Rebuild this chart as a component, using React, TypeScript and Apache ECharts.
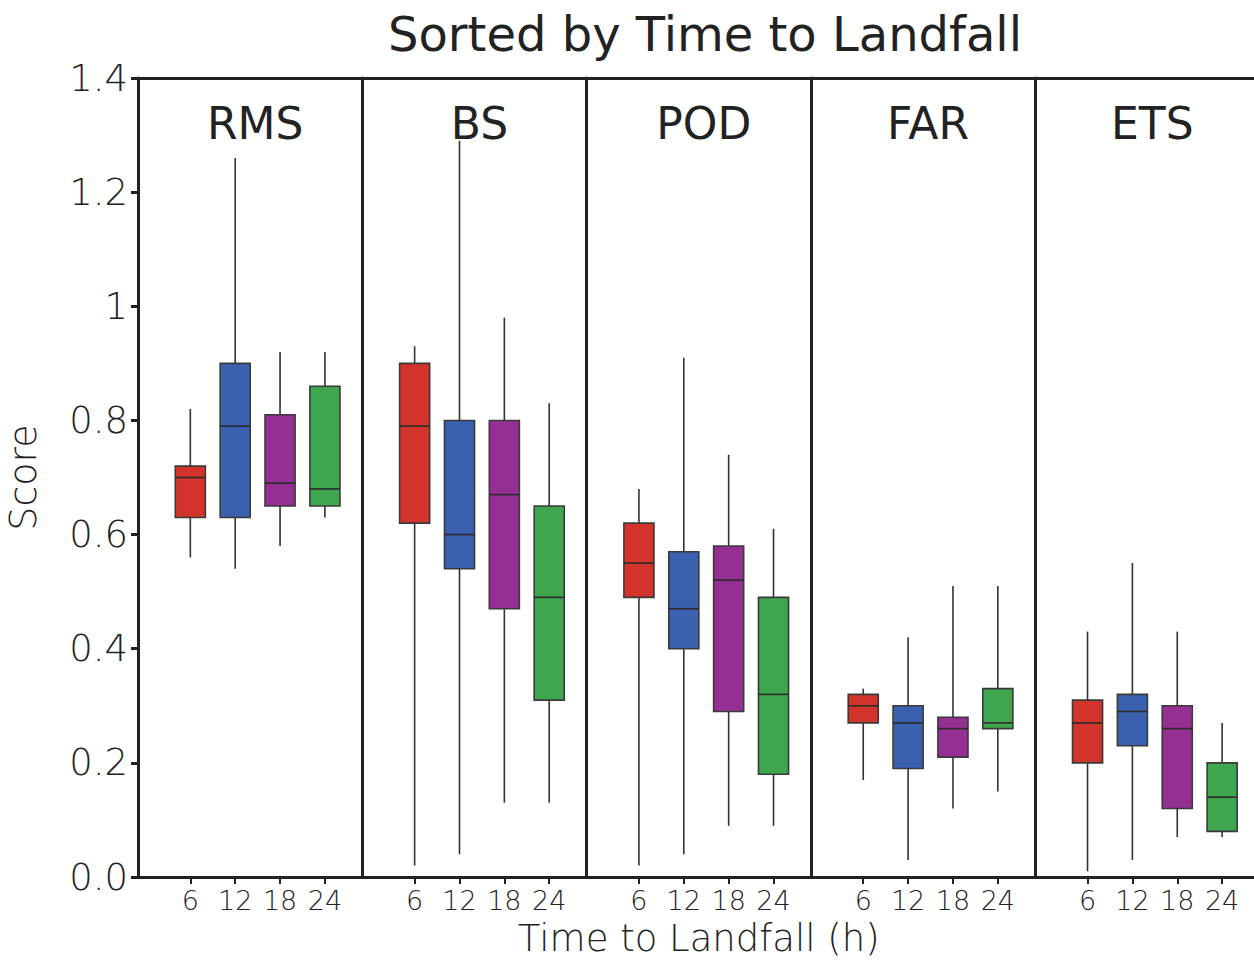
import { useEffect, useRef } from 'react';
import * as echarts from 'echarts';

const panelNames = ['RMS', 'BS', 'POD', 'FAR', 'ETS'];
const leadTimes = [6, 12, 18, 24];
const boxColors = ['#d2342b', '#3a60b0', '#962f93', '#3fa64f'];

// per lead time: [min, Q1, median, Q3, max]
const rmsStats = [
  [0.56, 0.63, 0.70, 0.72, 0.82],
  [0.54, 0.63, 0.79, 0.90, 1.26],
  [0.58, 0.65, 0.69, 0.81, 0.92],
  [0.63, 0.65, 0.68, 0.86, 0.92],
];
const bsStats = [
  [0.02, 0.62, 0.79, 0.90, 0.93],
  [0.04, 0.54, 0.60, 0.80, 1.29],
  [0.13, 0.47, 0.67, 0.80, 0.98],
  [0.13, 0.31, 0.49, 0.65, 0.83],
];
const podStats = [
  [0.02, 0.49, 0.55, 0.62, 0.68],
  [0.04, 0.40, 0.47, 0.57, 0.91],
  [0.09, 0.29, 0.52, 0.58, 0.74],
  [0.09, 0.18, 0.32, 0.49, 0.61],
];
const farStats = [
  [0.17, 0.27, 0.30, 0.32, 0.33],
  [0.03, 0.19, 0.27, 0.30, 0.42],
  [0.12, 0.21, 0.26, 0.28, 0.51],
  [0.15, 0.26, 0.27, 0.33, 0.51],
];
const etsStats = [
  [0.01, 0.20, 0.27, 0.31, 0.43],
  [0.03, 0.23, 0.29, 0.32, 0.55],
  [0.07, 0.12, 0.26, 0.30, 0.43],
  [0.07, 0.08, 0.14, 0.20, 0.27],
];
const allStats = [rmsStats, bsStats, podStats, farStats, etsStats];

const FONT = "'DejaVu Sans', sans-serif";
const INK = '#222';

export default function App() {
  const ref = useRef<HTMLDivElement>(null);
  useEffect(() => {
    if (!ref.current) return;
    const chart = echarts.init(ref.current, undefined, { renderer: 'svg' });
    const gridLeft = 138;
    const panelW = 224.3;
    const gridTop = 78;
    const gridH = 799;

    const grids: any[] = [];
    const xAxes: any[] = [];
    const yAxes: any[] = [];
    const series: any[] = [];
    const titles: any[] = [
      {
        text: 'Sorted by Time to Landfall',
        left: 700,
        top: 5,
        textAlign: 'center',
        textStyle: { fontFamily: FONT, fontSize: 48, fontWeight: 'normal', color: INK },
      },
    ];

    panelNames.forEach((name, k) => {
      const left = gridLeft + k * panelW;
      grids.push({
        left,
        top: gridTop,
        width: panelW,
        height: gridH,
        show: false,
        containLabel: false,
        outerBoundsMode: 'none',
      });
      titles.push({
        text: name,
        left: left + panelW / 2,
        top: 96,
        textAlign: 'center',
        textStyle: { fontFamily: FONT, fontSize: 44, fontWeight: 'normal', color: INK },
      });
      // bottom axis with lead-time ticks
      xAxes.push({
        type: 'value',
        gridIndex: k,
        position: 'bottom',
        min: -1,
        max: 29,
        name: k === 2 ? 'Time to Landfall (h)' : '',
        nameLocation: 'middle',
        nameGap: 43,
        nameTextStyle: { fontFamily: FONT, fontSize: 37, lineHeight: 37, fontWeight: 200, color: INK },
        axisLine: { show: true, onZero: false, lineStyle: { color: INK, width: 3 } },
        axisTick: { show: true, customValues: leadTimes, length: 7, lineStyle: { color: INK, width: 2 } },
        axisLabel: {
          show: true,
          customValues: leadTimes,
          margin: 10,
          fontFamily: FONT,
          fontSize: 27,
          fontWeight: 200,
          color: INK,
        },
        splitLine: { show: false },
      });
      // top frame line
      xAxes.push({
        type: 'value',
        gridIndex: k,
        position: 'top',
        min: -1,
        max: 29,
        axisLine: { show: true, onZero: false, lineStyle: { color: INK, width: 3 } },
        axisTick: { show: false },
        axisLabel: { show: false },
        splitLine: { show: false },
      });
      yAxes.push({
        type: 'value',
        gridIndex: k,
        min: 0,
        max: 1.4,
        interval: 0.2,
        name: k === 0 ? 'Score' : '',
        nameLocation: 'middle',
        nameGap: 96,
        nameRotate: 90,
        nameTextStyle: { fontFamily: FONT, fontSize: 38, fontWeight: 200, color: INK },
        axisLine: { show: true, onZero: false, lineStyle: { color: INK, width: 3 } },
        axisTick: { show: k === 0, length: 7, lineStyle: { color: INK, width: 3 } },
        axisLabel: {
          show: k === 0,
          margin: 10,
          fontFamily: FONT,
          fontSize: 37,
          fontWeight: 200,
          color: INK,
          formatter: (v: number) => (Math.abs(v - 1) < 1e-9 ? '1' : v.toFixed(1)),
        },
        splitLine: { show: false },
      });
      series.push({
        type: 'custom',
        xAxisIndex: 2 * k,
        yAxisIndex: k,
        encode: { x: 0, y: [1, 2, 3, 4, 5] },
        data: allStats[k].map((s, i) => [leadTimes[i], ...s]),
        renderItem: (params: any, api: any) => {
          const x = api.value(0);
          const lo = api.coord([x, api.value(1)]);
          const q1 = api.coord([x, api.value(2)]);
          const med = api.coord([x, api.value(3)]);
          const q3 = api.coord([x, api.value(4)]);
          const hi = api.coord([x, api.value(5)]);
          const half = (api.size([6, 0])[0] * 0.67) / 2;
          const color = boxColors[params.dataIndex];
          return {
            type: 'group',
            children: [
              {
                type: 'line',
                shape: { x1: lo[0], y1: lo[1], x2: hi[0], y2: hi[1] },
                style: { stroke: '#333', lineWidth: 1.6 },
              },
              {
                type: 'rect',
                shape: { x: q3[0] - half, y: q3[1], width: half * 2, height: q1[1] - q3[1] },
                style: { fill: color, stroke: '#3a3a3a', lineWidth: 1.6 },
              },
              {
                type: 'line',
                shape: { x1: med[0] - half, y1: med[1], x2: med[0] + half, y2: med[1] },
                style: { stroke: '#2a2a2a', lineWidth: 1.6 },
              },
            ],
          };
        },
      });
    });

    chart.setOption({
      animation: false,
      backgroundColor: '#ffffff',
      title: titles,
      grid: grids,
      xAxis: xAxes,
      yAxis: yAxes,
      series,
    });
    return () => chart.dispose();
  }, []);
  return (
    <div
      ref={ref}
      style={{ position: 'fixed', left: 0, top: 0, width: 1254, height: 961, background: '#fff' }}
    />
  );
}
